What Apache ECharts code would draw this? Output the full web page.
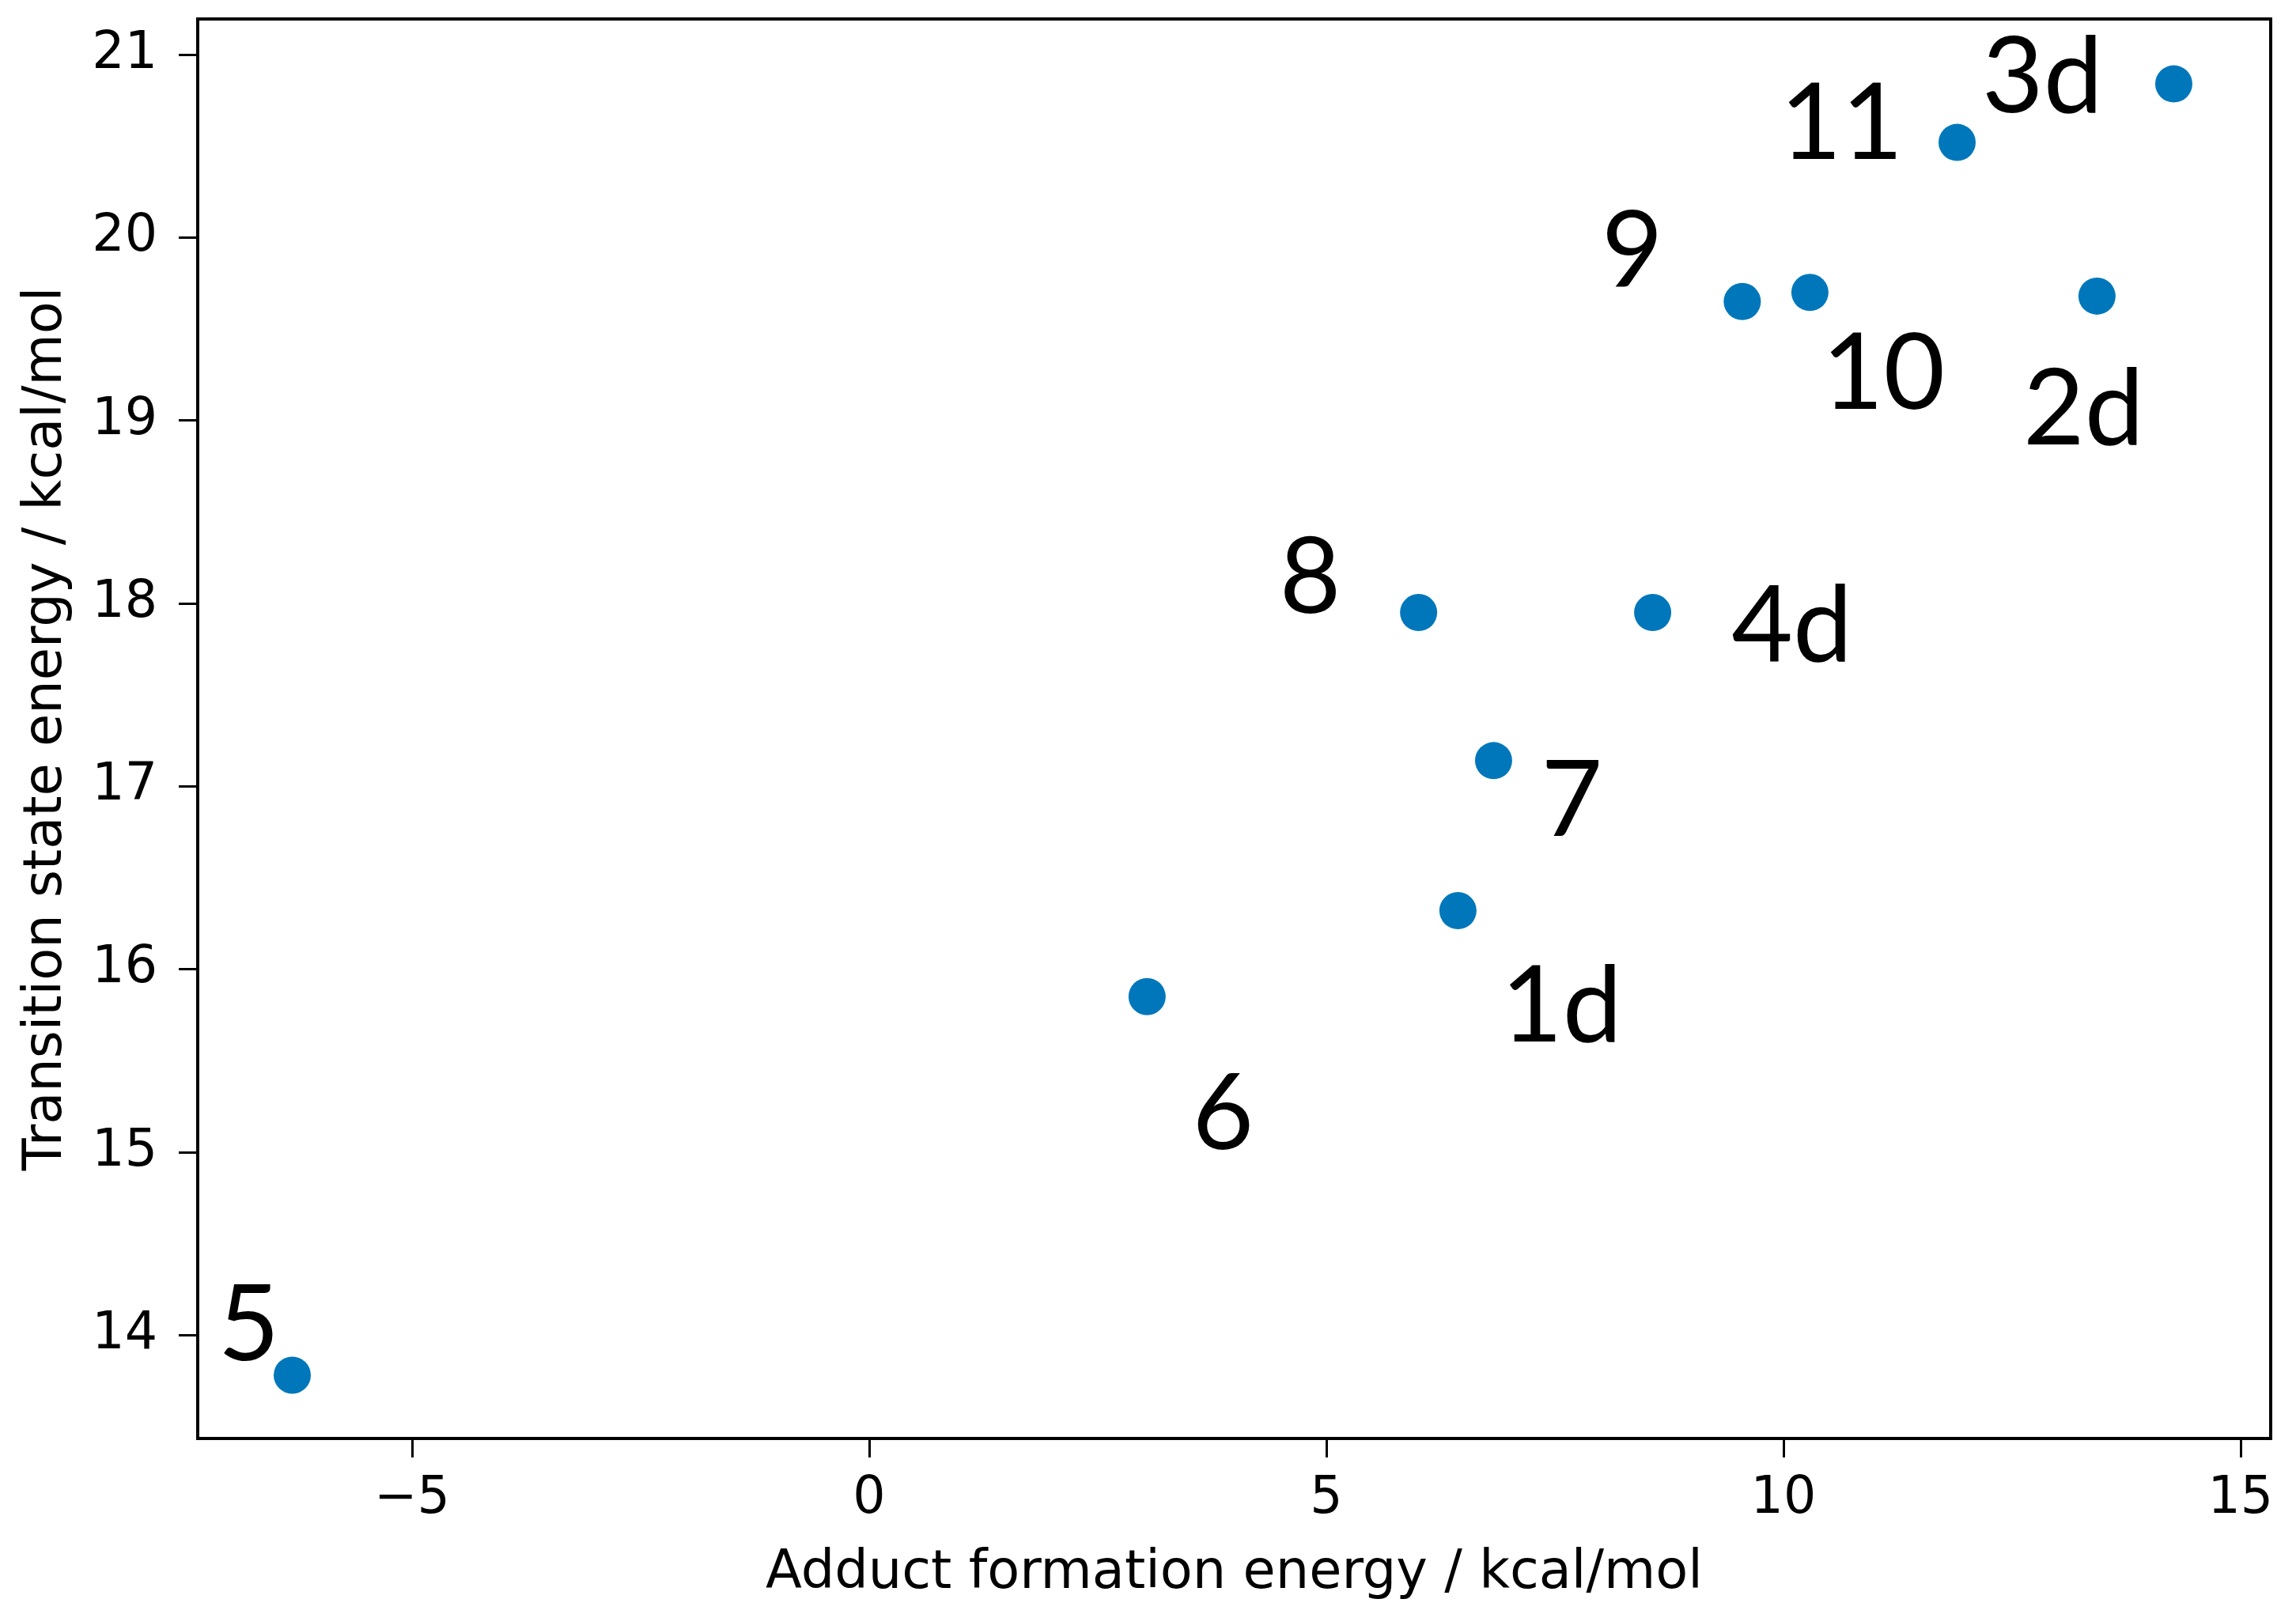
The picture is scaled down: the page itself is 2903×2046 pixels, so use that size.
<!DOCTYPE html>
<html>
<head>
<meta charset="utf-8">
<script src="https://cdn.jsdelivr.net/npm/echarts@6/dist/echarts.min.js"></script>
<style>
html,body{margin:0;padding:0;background:#fff;}
#chart{width:2903px;height:2046px;}
</style>
</head>
<body>
<div id="chart"></div>
<script>
// ---- data ----
const pointNames = ['5', '6', '1d', '7', '8', '4d', '9', '10', '2d', '11', '3d'];
const adductEnergy = [-6.31, 3.04, 6.44, 6.83, 6.01, 8.57, 9.55, 10.29, 13.43, 11.90, 14.27];
const tsEnergy = [13.78, 15.85, 16.32, 17.14, 17.95, 17.95, 19.65, 19.70, 19.68, 20.52, 20.84];
const xTicks = [-5, 0, 5, 10, 15];
const yTicks = [14, 15, 16, 17, 18, 19, 20, 21];

// ---- label placement (pixel offsets from each marker, styling only) ----
const labelOffsets = [
  [-55, -62], [96, 150], [131, 122], [99, 52], [-137, -43], [176, 18],
  [-139, -63], [93, 104], [-17, 144], [-146, -22], [-166, -7]
];

const tickFont = 'DejaVu Sans';
const fmt = v => String(v).replace('-', '\u2212');

const seriesData = pointNames.map((n, i) => ({
  name: n,
  value: [adductEnergy[i], tsEnergy[i]],
  label: { offset: labelOffsets[i] }
}));

const chart = echarts.init(document.getElementById('chart'), null, { renderer: 'canvas' });
chart.setOption({
  animation: false,
  backgroundColor: '#ffffff',
  grid: {
    left: 250, right: 32, top: 24, bottom: 227,
    show: true, borderColor: '#000', borderWidth: 4, backgroundColor: 'transparent'
  },
  xAxis: {
    type: 'value',
    min: -7.344, max: 15.33,
    name: 'Adduct formation energy / kcal/mol',
    nameLocation: 'middle',
    nameGap: 138,
    nameTextStyle: { fontFamily: tickFont, fontSize: 67, color: '#000' },
    axisLine: { show: true, onZero: false, lineStyle: { color: '#000', width: 4 } },
    axisTick: { show: true, inside: false, length: 24, customValues: xTicks, lineStyle: { color: '#000', width: 3 } },
    axisLabel: { customValues: xTicks, formatter: fmt, margin: 45, fontFamily: tickFont, fontSize: 65, color: '#000' },
    splitLine: { show: false }
  },
  yAxis: {
    type: 'value',
    min: 13.434, max: 21.195,
    name: 'Transition state energy / kcal/mol',
    nameLocation: 'middle',
    nameGap: 157,
    nameTextStyle: { fontFamily: tickFont, fontSize: 67, color: '#000' },
    axisLine: { show: true, onZero: false, lineStyle: { color: '#000', width: 4 } },
    axisTick: { show: true, inside: false, length: 24, customValues: yTicks, lineStyle: { color: '#000', width: 3 } },
    axisLabel: { customValues: yTicks, formatter: fmt, margin: 51, fontFamily: tickFont, fontSize: 65, color: '#000' },
    splitLine: { show: false }
  },
  series: [{
    type: 'scatter',
    symbol: 'circle',
    symbolSize: 47,
    itemStyle: { color: '#0077bb', opacity: 1 },
    label: {
      show: true,
      position: 'inside',
      formatter: p => p.name,
      fontFamily: 'Lato',
      fontSize: 134,
      color: '#000',
      align: 'center',
      verticalAlign: 'middle'
    },
    emphasis: { disabled: true },
    data: seriesData
  }]
});
</script>
</body>
</html>
